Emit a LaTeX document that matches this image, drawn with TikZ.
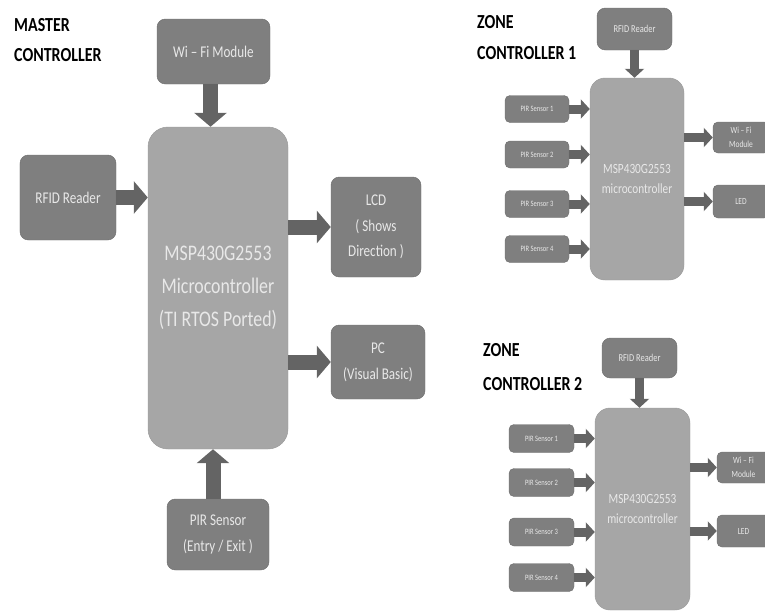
\documentclass[tikz,border=0pt]{standalone}
\usepackage{fontspec}
\setmainfont{Carlito}[FakeStretch=0.8]
\usepackage{tikz}
\usetikzlibrary{arrows.meta,calc}
\definecolor{mcgray}{RGB}{166,166,166}
\definecolor{boxgray}{RGB}{127,127,127}
\definecolor{linegray}{RGB}{112,112,112}
\definecolor{arrowgray}{RGB}{100,100,100}
\definecolor{textgray}{RGB}{232,232,232}
\tikzstyle{fatarrow} = [line width=4.5mm, -{Triangle[width=9.6mm,length=4.2mm]}, color=arrowgray]
\tikzstyle{thinarrow} = [line width=2.7mm, -{Triangle[width=5.7mm,length=2.7mm]}, color=arrowgray]
\tikzstyle{modbox} = [rectangle, rounded corners=2.5mm, draw=linegray, fill=boxgray, text=textgray, align=center, inner sep=0pt]
\tikzstyle{mcubox} = [rectangle, rounded corners=6mm, draw=linegray!70, fill=mcgray, text=textgray, align=center, inner sep=0pt]
\tikzstyle{ctrltitle} = [anchor=north west, align=left, inner sep=0pt, font=\bfseries\fontsize{17}{26}\selectfont]

\begin{document}
\begin{tikzpicture}[x=0.3mm, y=-0.3mm]
\useasboundingbox (0,0) rectangle (765,611);

% master controller
\node[ctrltitle] (mtitle) at (14,18) {MASTER\\CONTROLLER};
\node[modbox, minimum width=33.9mm, minimum height=19.5mm, font=\fontsize{14}{22}\selectfont] (wifi) at (213.5,51.5) {Wi -- Fi Module};
\node[mcubox, minimum width=42mm, minimum height=96.6mm, font=\fontsize{19}{28}\selectfont] (mcu) at (218,288) {MSP430G2553\\Microcontroller\\(TI RTOS Ported)};
\node[modbox, minimum width=28.8mm, minimum height=25.5mm, font=\fontsize{14}{22}\selectfont] (rfid) at (68,197.5) {RFID Reader};
\node[modbox, minimum width=27mm, minimum height=30mm, font=\fontsize{14}{22}\selectfont] (lcd) at (376,227) {LCD\\( Shows\\Direction )};
\node[modbox, minimum width=28.2mm, minimum height=22.2mm, font=\fontsize{14}{22}\selectfont] (pc) at (378,362) {PC\\(Visual Basic)};
\node[modbox, minimum width=30.6mm, minimum height=21.3mm, font=\fontsize{14}{22}\selectfont] (pir) at (218,534.5) {PIR Sensor\\(Entry / Exit )};

\draw[fatarrow] ($(wifi.south)+(-3,0)$) -- ($(wifi.south |- mcu.north)+(-3,0)$);
\draw[fatarrow] (rfid.east) -- (rfid.east -| mcu.west);
\draw[fatarrow] (mcu.east |- lcd.west) -- (lcd.west);
\draw[fatarrow] (mcu.east |- pc.west) -- (pc.west);
\draw[fatarrow] ($(pir.north)+(-5,0)$) -- ($(pir.north |- mcu.south)+(-5,0)$);

% zone controller 1
\node[ctrltitle, font=\bfseries\fontsize{17}{27}\selectfont] (ztitle1) at (477,15) {ZONE\\CONTROLLER 1};
\node[modbox, minimum width=22.5mm, minimum height=12.6mm, font=\fontsize{9}{11}\selectfont] (zrfid1) at (634.5,29) {RFID Reader};
\node[mcubox, rounded corners=4.5mm, minimum width=28.2mm, minimum height=60.6mm, font=\fontsize{12}{17}\selectfont] (zmcu1) at (637,179) {MSP430G2553\\microcontroller};
\node[modbox, rounded corners=1.5mm, minimum width=19.2mm, minimum height=8.1mm, font=\fontsize{7}{9}\selectfont] (zpir11) at (537,109) {PIR Sensor 1};
\node[modbox, rounded corners=1.5mm, minimum width=19.2mm, minimum height=8.1mm, font=\fontsize{7}{9}\selectfont] (zpir12) at (537,154.5) {PIR Sensor 2};
\node[modbox, rounded corners=1.5mm, minimum width=19.2mm, minimum height=8.1mm, font=\fontsize{7}{9}\selectfont] (zpir13) at (537,204) {PIR Sensor 3};
\node[modbox, rounded corners=1.5mm, minimum width=19.2mm, minimum height=8.1mm, font=\fontsize{7}{9}\selectfont] (zpir14) at (537,249) {PIR Sensor 4};
\node[modbox, rounded corners=1.5mm, minimum width=16.8mm, minimum height=9.3mm, font=\fontsize{8}{12}\selectfont] (zwifi1) at (741,137.5) {Wi -- Fi\\Module};
\node[modbox, rounded corners=1.5mm, minimum width=16.8mm, minimum height=9.9mm, font=\fontsize{8}{10}\selectfont] (zled1) at (741,201.5) {LED};

\draw[thinarrow] (zrfid1.south) -- (zrfid1.south |- zmcu1.north);
\draw[thinarrow] (zpir11.east) -- (zpir11.east -| zmcu1.west);
\draw[thinarrow] (zpir12.east) -- (zpir12.east -| zmcu1.west);
\draw[thinarrow] (zpir13.east) -- (zpir13.east -| zmcu1.west);
\draw[thinarrow] (zpir14.east) -- (zpir14.east -| zmcu1.west);
\draw[thinarrow] (zmcu1.east |- zwifi1.west) -- (zwifi1.west);
\draw[thinarrow] (zmcu1.east |- zled1.west) -- (zled1.west);

% zone controller 2
\node[ctrltitle, font=\bfseries\fontsize{17}{29}\selectfont] (ztitle2) at (483,343) {ZONE\\CONTROLLER 2};
\node[modbox, minimum width=22.5mm, minimum height=12mm, font=\fontsize{9}{11}\selectfont] (zrfid2) at (639.5,358) {RFID Reader};
\node[mcubox, rounded corners=4.5mm, minimum width=28.5mm, minimum height=60.6mm, font=\fontsize{12}{17}\selectfont] (zmcu2) at (642.5,509) {MSP430G2553\\microcontroller};
\node[modbox, rounded corners=1.5mm, minimum width=19.5mm, minimum height=8.4mm, font=\fontsize{7}{9}\selectfont] (zpir21) at (541.5,438.5) {PIR Sensor 1};
\node[modbox, rounded corners=1.5mm, minimum width=19.5mm, minimum height=8.4mm, font=\fontsize{7}{9}\selectfont] (zpir22) at (541.5,482.5) {PIR Sensor 2};
\node[modbox, rounded corners=1.5mm, minimum width=19.5mm, minimum height=8.4mm, font=\fontsize{7}{9}\selectfont] (zpir23) at (541.5,532) {PIR Sensor 3};
\node[modbox, rounded corners=1.5mm, minimum width=19.5mm, minimum height=8.4mm, font=\fontsize{7}{9}\selectfont] (zpir24) at (541.5,577.5) {PIR Sensor 4};
\node[modbox, rounded corners=1.5mm, minimum width=15.9mm, minimum height=9.3mm, font=\fontsize{8}{12}\selectfont] (zwifi2) at (743.5,467.5) {Wi -- Fi\\Module};
\node[modbox, rounded corners=1.5mm, minimum width=15.9mm, minimum height=9.6mm, font=\fontsize{8}{10}\selectfont] (zled2) at (743.5,531) {LED};

\draw[thinarrow] (zrfid2.south) -- (zrfid2.south |- zmcu2.north);
\draw[thinarrow] (zpir21.east) -- (zpir21.east -| zmcu2.west);
\draw[thinarrow] (zpir22.east) -- (zpir22.east -| zmcu2.west);
\draw[thinarrow] (zpir23.east) -- (zpir23.east -| zmcu2.west);
\draw[thinarrow] (zpir24.east) -- (zpir24.east -| zmcu2.west);
\draw[thinarrow] (zmcu2.east |- zwifi2.west) -- (zwifi2.west);
\draw[thinarrow] (zmcu2.east |- zled2.west) -- (zled2.west);
\end{tikzpicture}
\end{document}
